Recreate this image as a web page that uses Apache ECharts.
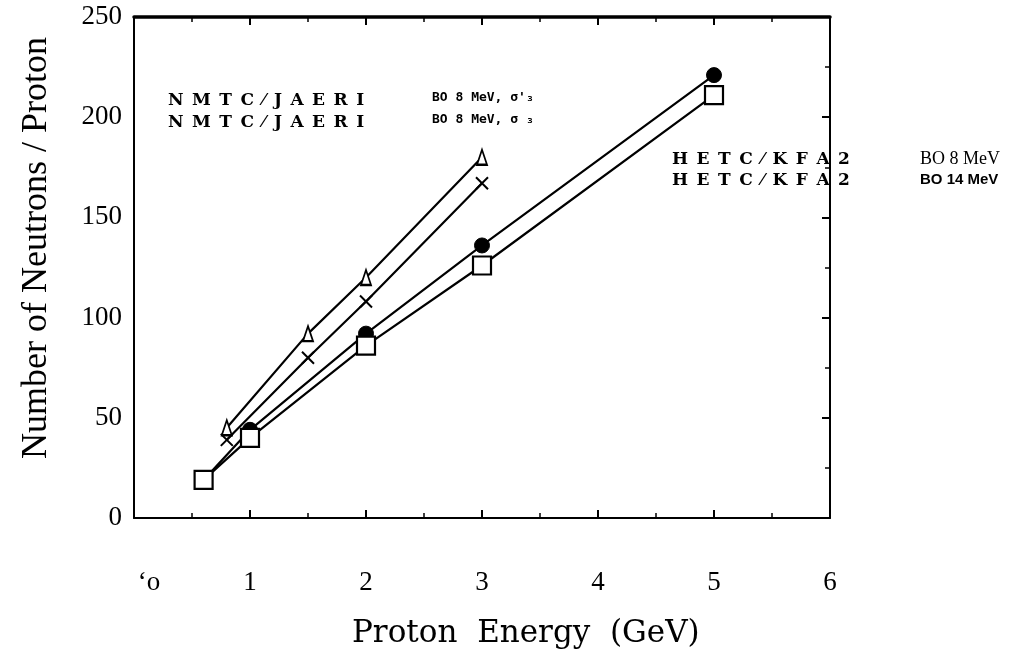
<!DOCTYPE html>
<html><head><meta charset="utf-8">
<script src="https://cdn.jsdelivr.net/npm/echarts@6/dist/echarts.min.js"></script>
<style>html,body{margin:0;padding:0;background:#fff}#c{width:1018px;height:658px}</style>
</head><body><div id="c"></div>
<script>
// Data
const triEnergy = [0.8, 1.5, 2, 3];
const triValues = [45, 92, 120, 180];          // NMTC/JAERI BO 8 MeV, sigma'3
const crossEnergy = [0.8, 1.5, 2, 3];
const crossValues = [39, 80, 108, 167];        // NMTC/JAERI BO 8 MeV, sigma3
const circEnergy = [0.6, 1, 2, 3, 5];
const circValues = [19, 44, 92, 136, 221];     // HETC/KFA2 BO 8 MeV
const sqEnergy = [0.6, 1, 2, 3, 5];
const sqValues = [19, 40, 86, 126, 211];       // HETC/KFA2 BO 14 MeV
const xTicks = ['‘o', '1', '2', '3', '4', '5', '6'];
const yTicks = [0, 50, 100, 150, 200, 250];

const zip = (a, b) => a.map((v, i) => [v, b[i]]);
const chart = echarts.init(document.getElementById('c'));
const serif = '"Liberation Serif","DejaVu Serif",serif';
const axisCommon = {
  axisLine: {onZero: false, lineStyle: {color: '#000', width: 2}},
  axisTick: {inside: true, length: 8, lineStyle: {color: '#000', width: 2}},
  minorTick: {show: true, splitNumber: 2, length: 5, lineStyle: {color: '#000', width: 1.5}},
  splitLine: {show: false}
};
const lineSeries = (name, data, symbol, size, itemStyle) => ({
  name, type: 'line', data, symbol, symbolSize: size, showAllSymbol: true,
  lineStyle: {color: '#000', width: 2.2}, itemStyle, z: 3, animation: false
});
const sp = s => s.split(' ').join('\u2002');
chart.setOption({
  animation: false,
  grid: {left: 134, right: 188, top: 17, bottom: 140, containLabel: false, outerBoundsMode: 'none'},
  xAxis: [
    Object.assign({type: 'value', min: 0, max: 6, interval: 1, position: 'bottom',
      axisLabel: {color: '#000', fontFamily: serif, fontSize: 27, margin: 51,
        formatter: v => (Math.round(v) === 0 ? '{o|' + xTicks[0] + '}' : xTicks[Math.round(v)]),
        rich: {o: {color: '#000', fontFamily: serif, fontSize: 27, padding: [0, 0, 0, 30]}}}}, axisCommon),
    Object.assign({type: 'value', min: 0, max: 6, interval: 1, position: 'top',
      axisLabel: {show: false}}, axisCommon, {axisLine: {onZero: false, lineStyle: {color: '#000', width: 3.5}}})
  ],
  yAxis: [
    Object.assign({type: 'value', min: 0, max: 250, interval: 50, position: 'left',
      axisLabel: {color: '#000', fontFamily: serif, fontSize: 27, margin: 12,
        formatter: v => String(yTicks[Math.round(v / 50)])}}, axisCommon,
      {axisTick: {show: false}, minorTick: {show: false}}),
    Object.assign({type: 'value', min: 0, max: 250, interval: 50, position: 'right',
      axisLabel: {show: false}}, axisCommon)
  ],
  series: [
    lineSeries('tri', zip(triEnergy, triValues), 'triangle', [10, 15],
      {color: '#fff', borderColor: '#000', borderWidth: 2}),
    lineSeries('cross', zip(crossEnergy, crossValues), 'path://M0,0L10,10M10,0L0,10', 12,
      {color: 'none', borderColor: '#000', borderWidth: 2}),
    lineSeries('circ', zip(circEnergy, circValues), 'circle', 15,
      {color: '#000', borderColor: '#000', borderWidth: 1}),
    lineSeries('sq', zip(sqEnergy, sqValues), 'rect', 18,
      {color: '#fff', borderColor: '#000', borderWidth: 2.2})
  ],
  graphic: [
    {type: 'text', x: 37, y: 248, rotation: Math.PI / 2,
      style: {text: 'Number of Neutrons / Proton', font: '36px "Liberation Serif",serif', fill: '#000',
        align: 'center', verticalAlign: 'middle'}},
    {type: 'text', left: 352, top: 618, style: {text: 'Proton  Energy  (GeV)', font: '31px "DejaVu Serif",serif', fill: '#000'}},
    {type: 'text', left: 168, top: 92, style: {text: sp('N M T C ⁄ J A E R I'), font: 'bold 17px "DejaVu Serif",serif', fill: '#000'}},
    {type: 'text', left: 168, top: 114, style: {text: sp('N M T C ⁄ J A E R I'), font: 'bold 17px "DejaVu Serif",serif', fill: '#000'}},
    {type: 'text', left: 432, top: 91, style: {text: 'BO 8 MeV, σ\'₃', font: 'bold 13px "DejaVu Sans Mono",monospace', fill: '#000'}},
    {type: 'text', left: 432, top: 113, style: {text: 'BO 8 MeV, σ ₃', font: 'bold 13px "DejaVu Sans Mono",monospace', fill: '#000'}},
    {type: 'text', left: 672, top: 151, style: {text: sp('H E T C ⁄ K F A 2'), font: 'bold 17px "DejaVu Serif",serif', fill: '#000'}},
    {type: 'text', left: 672, top: 172, style: {text: sp('H E T C ⁄ K F A 2'), font: 'bold 17px "DejaVu Serif",serif', fill: '#000'}},
    {type: 'text', left: 920, top: 150, style: {text: 'BO 8 MeV', font: '18px "Liberation Serif",serif', fill: '#000'}},
    {type: 'text', left: 920, top: 172, style: {text: 'BO 14 MeV', font: 'bold 15px "Liberation Sans",sans-serif', fill: '#000'}}
  ]
});
</script></body></html>
